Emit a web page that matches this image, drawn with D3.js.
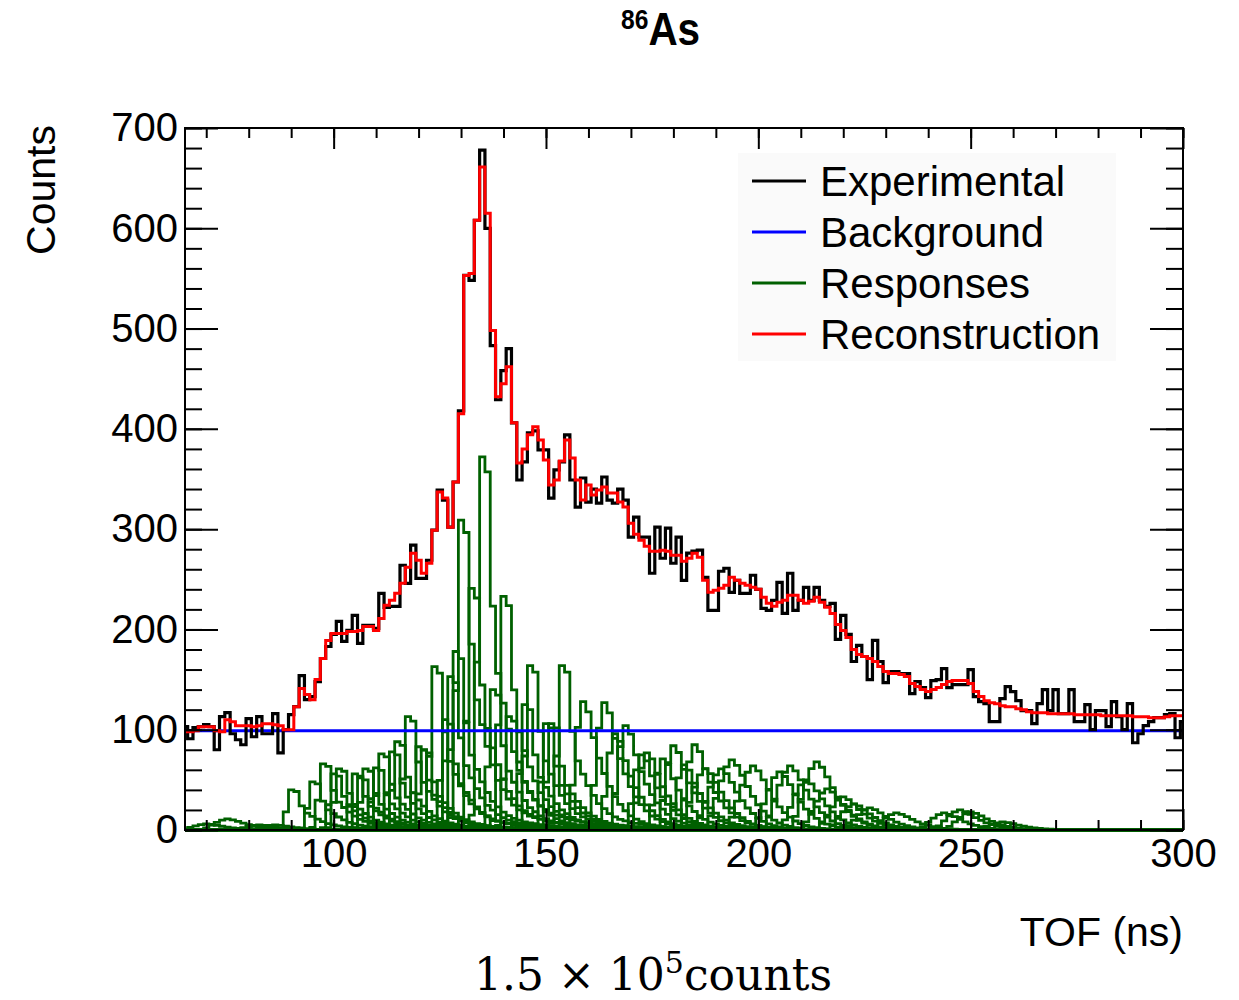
<!DOCTYPE html>
<html>
<head>
<meta charset="utf-8">
<script src="https://cdn.jsdelivr.net/npm/d3@7"></script>
<style>
body { margin: 0; background: #fff; }
svg { display: block; }
</style>
</head>
<body>
<div id="chart"></div>
<script>
// binning of the TOF histograms (ns)
const tofStart = 64.375
const binWidth = 1.25

// measured spectrum, counts per bin
const experimental = [
    103, 91, 102, 103, 105, 103, 80, 113, 117, 96,
    90, 85, 111, 93, 113, 96, 96, 116, 77, 100,
    115, 123, 154, 130, 133, 148, 171, 183, 195, 208,
    188, 199, 214, 186, 204, 204, 201, 236, 222, 223,
    223, 264, 246, 284, 251, 251, 269, 299, 339, 329,
    302, 347, 418, 553, 548, 608, 678, 600, 483, 429,
    458, 480, 406, 349, 367, 396, 398, 379, 379, 331,
    359, 367, 394, 349, 322, 351, 327, 340, 326, 352,
    329, 326, 340, 329, 292, 312, 292, 292, 256, 302,
    271, 301, 266, 292, 249, 276, 278, 279, 252, 219,
    219, 258, 261, 237, 249, 236, 236, 254, 240, 221,
    219, 229, 247, 216, 256, 219, 229, 242, 229, 242,
    229, 223, 226, 190, 214, 195, 168, 184, 173, 150,
    189, 168, 147, 158, 158, 156, 156, 136, 148, 142,
    132, 149, 150, 161, 142, 145, 145, 145, 160, 133,
    128, 126, 108, 108, 131, 143, 138, 129, 119, 119,
    106, 126, 140, 119, 140, 116, 116, 140, 108, 108,
    125, 100, 119, 119, 103, 128, 113, 100, 126, 87,
    96, 104, 108, 112, 112, 115, 116, 92, 108
]

// fitted reconstruction, counts per bin
const reconstruction = [
    98, 98, 99, 103, 103, 103, 99, 98, 110, 108,
    104, 104, 104, 103, 104, 106, 106, 105, 104, 100,
    100, 123, 141, 135, 130, 150, 171, 189, 196, 196,
    196, 198, 198, 199, 203, 203, 199, 211, 224, 229,
    236, 246, 262, 276, 269, 256, 266, 299, 337, 331,
    302, 347, 415, 553, 555, 608, 661, 615, 498, 432,
    445, 462, 406, 366, 380, 394, 402, 389, 369, 344,
    349, 368, 389, 371, 349, 329, 344, 334, 339, 342,
    336, 336, 327, 322, 306, 295, 289, 283, 278, 278,
    279, 278, 274, 274, 268, 271, 276, 272, 249, 237,
    239, 241, 244, 252, 249, 246, 244, 242, 240, 232,
    226, 223, 227, 229, 234, 234, 229, 226, 228, 232,
    227, 222, 216, 205, 199, 192, 180, 175, 173, 171,
    168, 163, 158, 156, 156, 155, 153, 146, 143, 140,
    138, 140, 142, 145, 148, 149, 149, 149, 146, 138,
    133, 129, 127, 126, 124, 123, 123, 121, 120, 118,
    117, 117, 117, 116, 116, 116, 116, 116, 115, 115,
    115, 115, 115, 114, 114, 114, 114, 114, 114, 113,
    113, 113, 112, 112, 112, 113, 114, 114, 114
]

// flat background level
const background = 99

// single-level responses: TOF of the top bin, height, shape type
const respTof = [
    70, 75, 82, 86,
    90.6, 94.5, 96.9, 99.7, 101.6, 104.4, 106.2, 107.6, 109.7, 111.5,
    113.8, 115.4, 117.8, 119.7, 121.3, 123.7, 126, 127.2, 128.4, 130.2,
    132.2, 134.5, 137.3, 139.7, 141.7, 144.4, 146.4, 149.5, 151.5, 153.4,
    158.5, 163.7, 166.4, 168.8, 171.9, 174.3, 177, 179.8, 182.5, 184.9,
    187.2, 191.2, 193.5, 198.3, 204.5, 207.7, 210.8, 213.6, 216.3, 219.5,
    222.2, 226, 233, 244, 247, 250, 257
]
const respHeight = [
    6, 11, 5, 5,
    40, 48, 66, 56, 61, 56, 52, 61, 62, 76,
    78, 88, 113, 83, 80, 163, 110, 153, 178, 309,
    241, 372, 140, 233, 113, 125, 164, 106, 106, 164,
    128, 127, 96, 104, 75, 77, 71, 84, 65, 85,
    61, 61, 70, 64, 58, 64, 50, 68, 41, 33,
    26, 22, 17, 17, 20, 18, 8
]
const respShape = [
    "w", "w", "w", "w",
    "n", "n", "n", "n", "n", "n", "n", "n", "n", "n",
    "n", "n", "n", "n", "n", "n", "n", "n", "n", "n",
    "n", "n", "n", "n", "n", "n", "n", "n", "n", "n",
    "m", "m", "m", "m", "m", "m", "m", "m", "m", "m",
    "w", "w", "w", "w", "w", "w", "w", "w", "w", "w",
    "w", "w", "w", "w", "w", "w", "w"
]

// response line shapes (relative to the top bin)
const shapeNarrow = [0.04, 0.45, 1.0, 0.96, 0.6, 0.42, 0.34, 0.27, 0.21, 0.16, 0.13, 0.1, 0.08, 0.065, 0.055,
    0.045, 0.04, 0.035, 0.03, 0.027, 0.024, 0.021, 0.019, 0.017, 0.015, 0.013, 0.012, 0.011, 0.01, 0.009,
    0.008, 0.007, 0.006, 0.005, 0.004, 0.003, 0.002, 0.001]
const shapeMedium = [0.03, 0.35, 0.8, 1.0, 0.92, 0.72, 0.56, 0.44, 0.34, 0.26, 0.2, 0.15, 0.11, 0.085, 0.065,
    0.05, 0.04, 0.032, 0.026, 0.02, 0.016, 0.012, 0.009, 0.006, 0.004, 0.002]
const shapeWide = [0.04, 0.2, 0.45, 0.7, 0.9, 1.0, 0.92, 0.78, 0.62, 0.48, 0.36, 0.27, 0.2, 0.14, 0.1,
    0.07, 0.05, 0.035, 0.025, 0.015, 0.008, 0.004]

const shapes = {
    n: {values: shapeNarrow, top: 2},
    m: {values: shapeMedium, top: 3},
    w: {values: shapeWide, top: 5}
}

const legendNames = ["Experimental", "Background", "Responses", "Reconstruction"]
const legendColors = ["#000000", "#0000ff", "#006000", "#ff0000"]

const xMajorTicks = [100, 150, 200, 250, 300]
const xMinorTicks = [70, 80, 90, 100, 110, 120, 130, 140, 150, 160, 170, 180, 190, 200, 210, 220, 230, 240, 250, 260, 270, 280, 290, 300]
const yMajorTicks = [0, 100, 200, 300, 400, 500, 600, 700]
const yMinorTicks = d3.range(0, 701, 20)

const W = 1239, H = 1000
const plot = {left: 185, right: 1183, top: 128, bottom: 830}
const sansFont = '"Liberation Sans", Arial, Helvetica, sans-serif'

const edges = d3.range(experimental.length + 1).map(i => tofStart + i * binWidth)

const svg = d3.select("#chart").append("svg")
    .attr("width", W)
    .attr("height", H)
    .style("background", "white")

const x = d3.scaleLinear()
    .domain([65, 300])
    .range([plot.left, plot.right])

const y = d3.scaleLinear()
    .domain([0, 700])
    .range([plot.bottom, plot.top])

svg.append("clipPath")
    .attr("id", "plot-clip")
  .append("rect")
    .attr("x", plot.left)
    .attr("y", plot.top)
    .attr("width", plot.right - plot.left)
    .attr("height", plot.bottom - plot.top + 2)

// histogram outline as a step line
const step = d3.line()
    .curve(d3.curveStepAfter)
    .x(d => x(d[0]))
    .y(d => y(d[1]))

function histPoints(vals) {
    const pts = vals.map((v, i) => [edges[i], v])
    pts.push([edges[vals.length], vals[vals.length - 1]])
    return pts
}

function responseCounts(tof, height, shapeName) {
    const s = shapes[shapeName]
    const first = Math.floor((tof - tofStart) / binWidth) - s.top
    return experimental.map((_, k) => {
        const j = k - first
        return (j >= 0 && j < s.values.length) ? height * s.values[j] : 0
    })
}

const responses = respTof.map((t, i) => responseCounts(t, respHeight[i], respShape[i]))

const hist = svg.append("g").attr("clip-path", "url(#plot-clip)")

// Responses
hist.selectAll(".response")
    .data(responses)
    .join("path")
        .attr("class", "response")
        .attr("d", d => step(histPoints(d)))
        .attr("fill", "none")
        .attr("stroke", legendColors[2])
        .attr("stroke-width", 2.8)

// Background
hist.append("path")
    .datum(experimental.map(() => background))
    .attr("d", d => step(histPoints(d)))
    .attr("fill", "none")
    .attr("stroke", legendColors[1])
    .attr("stroke-width", 3)

// Experimental
hist.append("path")
    .datum(experimental)
    .attr("d", d => step(histPoints(d)))
    .attr("fill", "none")
    .attr("stroke", legendColors[0])
    .attr("stroke-width", 3.2)

// Reconstruction
hist.append("path")
    .datum(reconstruction)
    .attr("d", d => step(histPoints(d)))
    .attr("fill", "none")
    .attr("stroke", legendColors[3])
    .attr("stroke-width", 3)

// frame
svg.append("rect")
    .attr("x", plot.left)
    .attr("y", plot.top)
    .attr("width", plot.right - plot.left)
    .attr("height", plot.bottom - plot.top)
    .attr("fill", "none")
    .attr("stroke", "black")
    .attr("stroke-width", 2)

function styleAxis(g) {
    g.select(".domain").remove()
    g.selectAll(".tick line").attr("stroke", "black").attr("stroke-width", 2)
    g.selectAll("text")
        .attr("font-family", sansFont)
        .attr("font-size", 40)
        .attr("fill", "black")
}

// bottom
svg.append("g")
    .attr("transform", `translate(0,${plot.bottom})`)
    .call(d3.axisBottom(x).tickValues(xMinorTicks).tickSize(-10).tickFormat(""))
    .call(styleAxis)
svg.append("g")
    .attr("transform", `translate(0,${plot.bottom})`)
    .call(d3.axisBottom(x).tickValues(xMajorTicks).tickSize(-21).tickPadding(9))
    .call(styleAxis)
// top
svg.append("g")
    .attr("transform", `translate(0,${plot.top})`)
    .call(d3.axisTop(x).tickValues(xMinorTicks).tickSize(-10).tickFormat(""))
    .call(styleAxis)
svg.append("g")
    .attr("transform", `translate(0,${plot.top})`)
    .call(d3.axisTop(x).tickValues(xMajorTicks).tickSize(-21).tickFormat(""))
    .call(styleAxis)
// left
svg.append("g")
    .attr("transform", `translate(${plot.left},0)`)
    .call(d3.axisLeft(y).tickValues(yMinorTicks).tickSize(-17).tickFormat(""))
    .call(styleAxis)
svg.append("g")
    .attr("transform", `translate(${plot.left},0)`)
    .call(d3.axisLeft(y).tickValues(yMajorTicks).tickSize(-33).tickPadding(7))
    .call(styleAxis)
// right
svg.append("g")
    .attr("transform", `translate(${plot.right},0)`)
    .call(d3.axisRight(y).tickValues(yMinorTicks).tickSize(-17).tickFormat(""))
    .call(styleAxis)
svg.append("g")
    .attr("transform", `translate(${plot.right},0)`)
    .call(d3.axisRight(y).tickValues(yMajorTicks).tickSize(-33).tickFormat(""))
    .call(styleAxis)

// axis titles
svg.append("text")
    .attr("x", plot.right)
    .attr("y", 946)
    .attr("text-anchor", "end")
    .attr("font-family", sansFont)
    .attr("font-size", 41)
    .text("TOF (ns)")

svg.append("text")
    .attr("transform", "translate(55,125) rotate(-90)")
    .attr("text-anchor", "end")
    .attr("font-family", sansFont)
    .attr("font-size", 41)
    .text("Counts")

// legend
const legend = svg.append("g")
legend.append("rect")
    .attr("x", 738)
    .attr("y", 153)
    .attr("width", 378)
    .attr("height", 208)
    .attr("fill", "#fafafa")

const rows = legend.selectAll(".row")
    .data(legendNames)
    .join("g")
        .attr("class", "row")
        .attr("transform", (d, i) => `translate(0,${181 + i * 51})`)
rows.append("line")
    .attr("x1", 752)
    .attr("x2", 806)
    .attr("stroke", (d, i) => legendColors[i])
    .attr("stroke-width", 3)
rows.append("text")
    .attr("x", 820)
    .attr("y", 15)
    .attr("font-family", sansFont)
    .attr("font-size", 42)
    .text(d => d)

// title
const title = svg.append("text")
    .attr("transform", "translate(621,45) scale(0.88,1)")
    .attr("font-family", '"Liberation Sans Narrow", "Arial Narrow", "Liberation Sans", sans-serif')
    .attr("font-weight", "bold")
title.append("tspan")
    .attr("font-size", 28)
    .attr("dy", -16)
    .text("86")
title.append("tspan")
    .attr("font-size", 46)
    .attr("dy", 16)
    .text("As")

// total counts note
const note = svg.append("text")
    .attr("x", 474)
    .attr("y", 990)
    .attr("font-family", '"DejaVu Serif", "Liberation Serif", serif')
    .attr("font-size", 44)
note.append("tspan").text("1.5 \u00d7 10")
note.append("tspan").attr("font-size", 30).attr("dy", -17).text("5")
note.append("tspan").attr("dy", 17).text("counts")
</script>
</body>
</html>
